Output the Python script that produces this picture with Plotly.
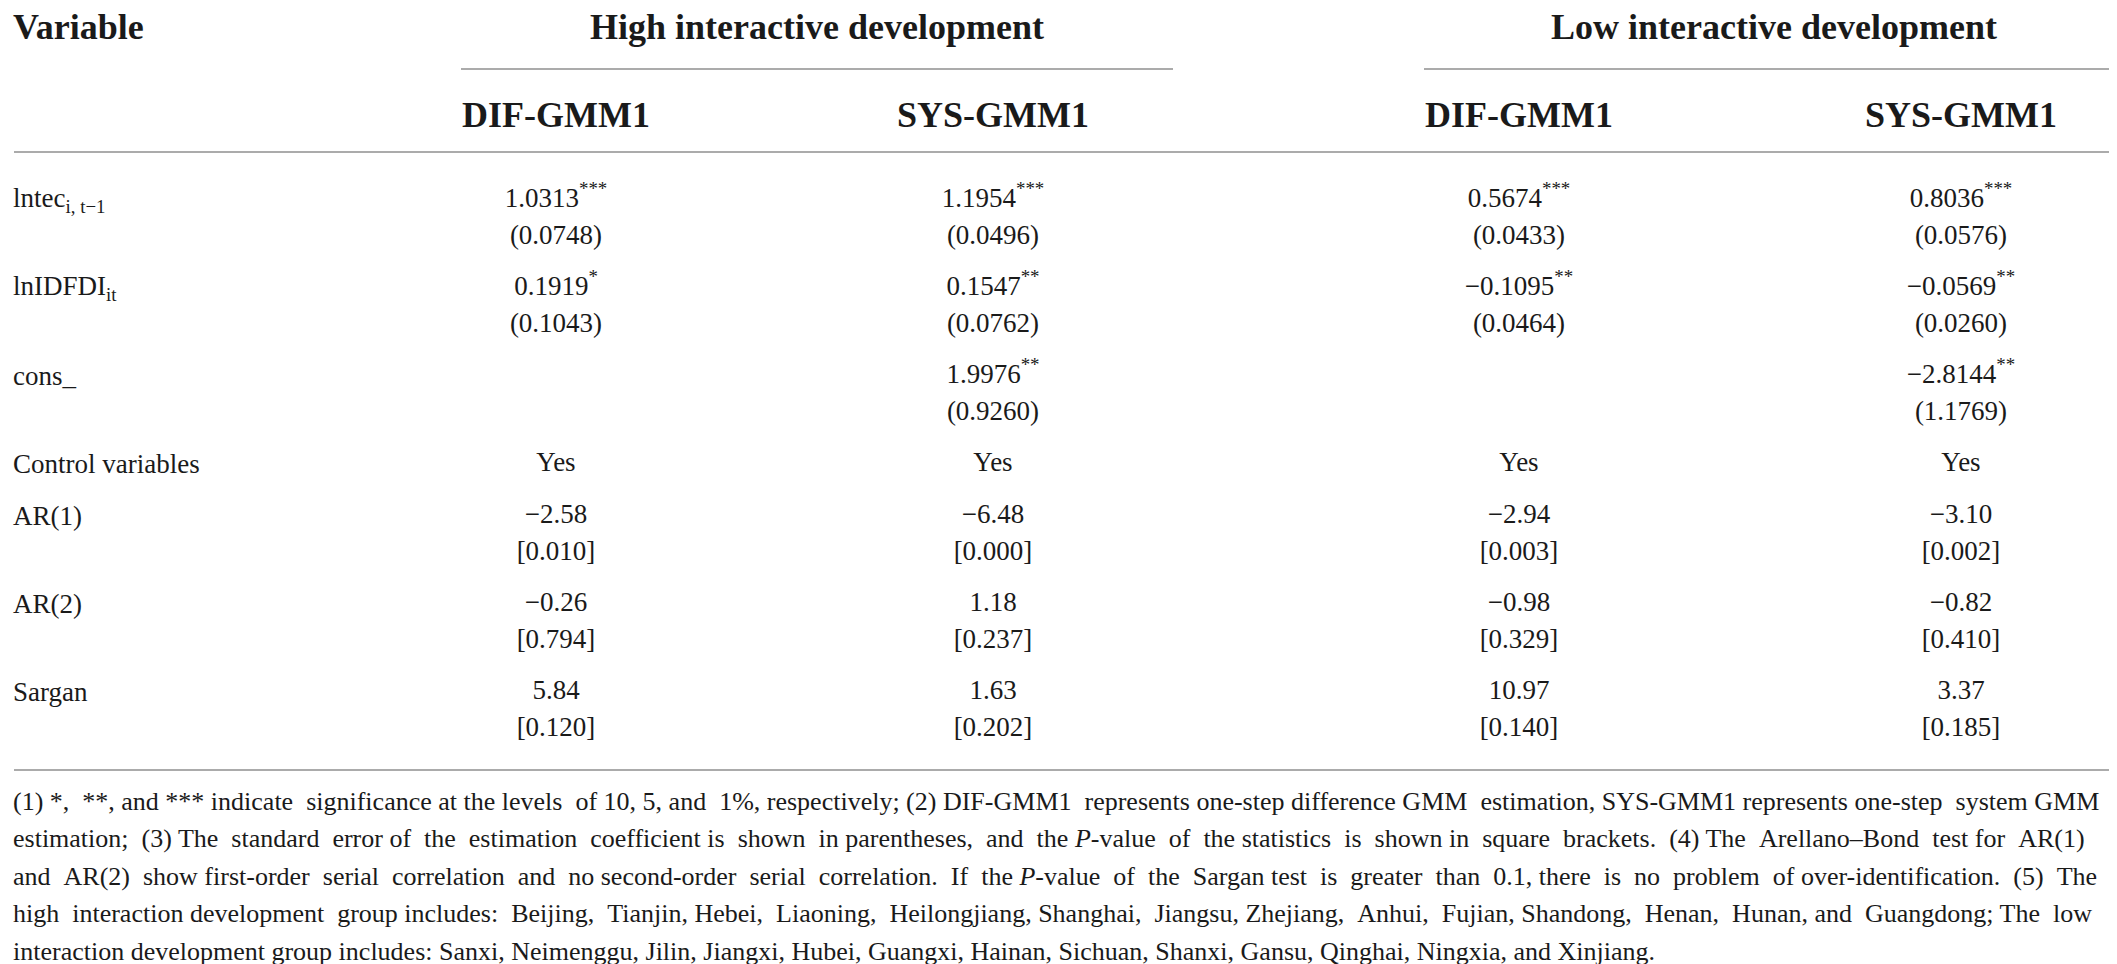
import plotly.graph_objects as go

# 표 데이터
row_labels = ["lntec<sub>i, t−1</sub>", "lnIDFDI<sub>it</sub>", "cons_", "Control variables",
              "AR(1)", "AR(2)", "Sargan"]
group_labels = ["High interactive development", "Low interactive development"]
column_labels = ["DIF-GMM1", "SYS-GMM1", "DIF-GMM1", "SYS-GMM1"]

high_dif_main = ["1.0313***", "0.1919*", "", "Yes", "−2.58", "−0.26", "5.84"]
high_dif_sub = ["(0.0748)", "(0.1043)", "", "", "[0.010]", "[0.794]", "[0.120]"]
high_sys_main = ["1.1954***", "0.1547**", "1.9976**", "Yes", "−6.48", "1.18", "1.63"]
high_sys_sub = ["(0.0496)", "(0.0762)", "(0.9260)", "", "[0.000]", "[0.237]", "[0.202]"]
low_dif_main = ["0.5674***", "−0.1095**", "", "Yes", "−2.94", "−0.98", "10.97"]
low_dif_sub = ["(0.0433)", "(0.0464)", "", "", "[0.003]", "[0.329]", "[0.140]"]
low_sys_main = ["0.8036***", "−0.0569**", "−2.8144**", "Yes", "−3.10", "−0.82", "3.37"]
low_sys_sub = ["(0.0576)", "(0.0260)", "(1.1769)", "", "[0.002]", "[0.410]", "[0.185]"]

footnote_lines = [
    "(1) *, **, and *** indicate significance at the levels of 10, 5, and 1%, respectively; (2) DIF-GMM1 represents one-step difference GMM estimation, SYS-GMM1 represents one-step system GMM",
    "estimation; (3) The standard error of the estimation coefficient is shown in parentheses, and the <i>P</i>-value of the statistics is shown in square brackets. (4) The Arellano–Bond test for AR(1)",
    "and AR(2) show first-order serial correlation and no second-order serial correlation. If the <i>P</i>-value of the Sargan test is greater than 0.1, there is no problem of over-identification. (5) The",
    "high interaction development group includes: Beijing, Tianjin, Hebei, Liaoning, Heilongjiang, Shanghai, Jiangsu, Zhejiang, Anhui, Fujian, Shandong, Henan, Hunan, and Guangdong; The low",
    "interaction development group includes: Sanxi, Neimenggu, Jilin, Jiangxi, Hubei, Guangxi, Hainan, Sichuan, Shanxi, Gansu, Qinghai, Ningxia, and Xinjiang.",
]

columns = [(high_dif_main, high_dif_sub), (high_sys_main, high_sys_sub),
           (low_dif_main, low_dif_sub), (low_sys_main, low_sys_sub)]

# 레이아웃 (픽셀 좌표)
W, H = 2117, 964
FONT = "Liberation Serif"
INK = "#1a1a1a"
RULE = "#8f8f8f"
BODY = 27
HEAD = 36
NOTE = 26
col_x = [548, 985, 1511, 1953]
group_x = [809, 1766]
group_rule = [(453, 1165), (1416, 2117)]
label_x = 3
# 양쪽 정렬 흉내: 줄마다 추가할 공백 수
justify_pad = [7, 20, 23, 13, 0]


def star_sup(s):
    # 유의성 별표를 위첨자로
    base = s.rstrip("*")
    stars = s[len(base):]
    return base + (f"<sup>{stars}</sup>" if stars else "")


def justify(line, extra):
    words = line.split(" ")
    gaps = len(words) - 1
    if extra <= 0 or gaps <= 0:
        return line
    out = words[0]
    given = 0
    for k in range(1, len(words)):
        target = round(extra * k / gaps)
        n = target - given
        given = target
        out += " " + "\u00a0" * n + words[k]
    return out


# 행 위치 계산
row_y = []
y = 192
for i in range(len(row_labels)):
    row_y.append(y)
    has_sub = any(col[1][i] for col in columns)
    y += 88 if has_sub else 52
SUB_DY = 37

fig = go.Figure()

for cx, (main, sub) in zip(col_x, columns):
    for vals, dy, fmt in [(main, 0, star_sup), (sub, SUB_DY, str)]:
        keep = [i for i, v in enumerate(vals) if v]
        fig.add_trace(go.Scatter(x=[cx] * len(keep), y=[row_y[i] + dy for i in keep],
                                 text=[fmt(vals[i]) for i in keep],
                                 mode="text", textposition="middle center",
                                 textfont=dict(family=FONT, size=BODY, color=INK),
                                 hoverinfo="skip", showlegend=False))

annotations = []
# 행 라벨
for lab, ry in zip(row_labels, row_y):
    annotations.append(dict(x=label_x, y=ry, text=lab, xanchor="left", yanchor="middle",
                            showarrow=False, font=dict(family=FONT, size=BODY, color=INK)))
# 헤더
annotations.append(dict(x=label_x, y=19, text="<b>Variable</b>", xanchor="left", yanchor="middle",
                        showarrow=False, font=dict(family=FONT, size=HEAD, color=INK)))
for gx, g in zip(group_x, group_labels):
    annotations.append(dict(x=gx, y=19, text=f"<b>{g}</b>", xanchor="center", yanchor="middle",
                            showarrow=False, font=dict(family=FONT, size=HEAD, color=INK)))
for cx, c in zip(col_x, column_labels):
    annotations.append(dict(x=cx, y=107, text=f"<b>{c}</b>", xanchor="center", yanchor="middle",
                            showarrow=False, font=dict(family=FONT, size=HEAD, color=INK)))
# 각주
for i, line in enumerate(footnote_lines):
    annotations.append(dict(x=label_x, y=793 + i * 37.5, text=justify(line, justify_pad[i]),
                            xanchor="left", yanchor="middle",
                            showarrow=False, font=dict(family=FONT, size=NOTE, color=INK)))

shapes = []
for x0, x1 in group_rule:
    shapes.append(dict(type="line", x0=x0, x1=x1, y0=61, y1=61,
                       line=dict(color=RULE, width=1.7)))
for ly in [144, 762]:
    shapes.append(dict(type="line", x0=6, x1=W, y0=ly, y1=ly,
                       line=dict(color=RULE, width=1.7)))

fig.update_layout(
    width=W, height=H,
    margin=dict(l=0, r=0, t=0, b=0),
    paper_bgcolor="white", plot_bgcolor="white",
    xaxis=dict(range=[0, W], visible=False, fixedrange=True),
    yaxis=dict(range=[H, 0], visible=False, fixedrange=True),
    annotations=annotations,
    shapes=shapes,
    showlegend=False,
)

fig.write_html("out.html")
